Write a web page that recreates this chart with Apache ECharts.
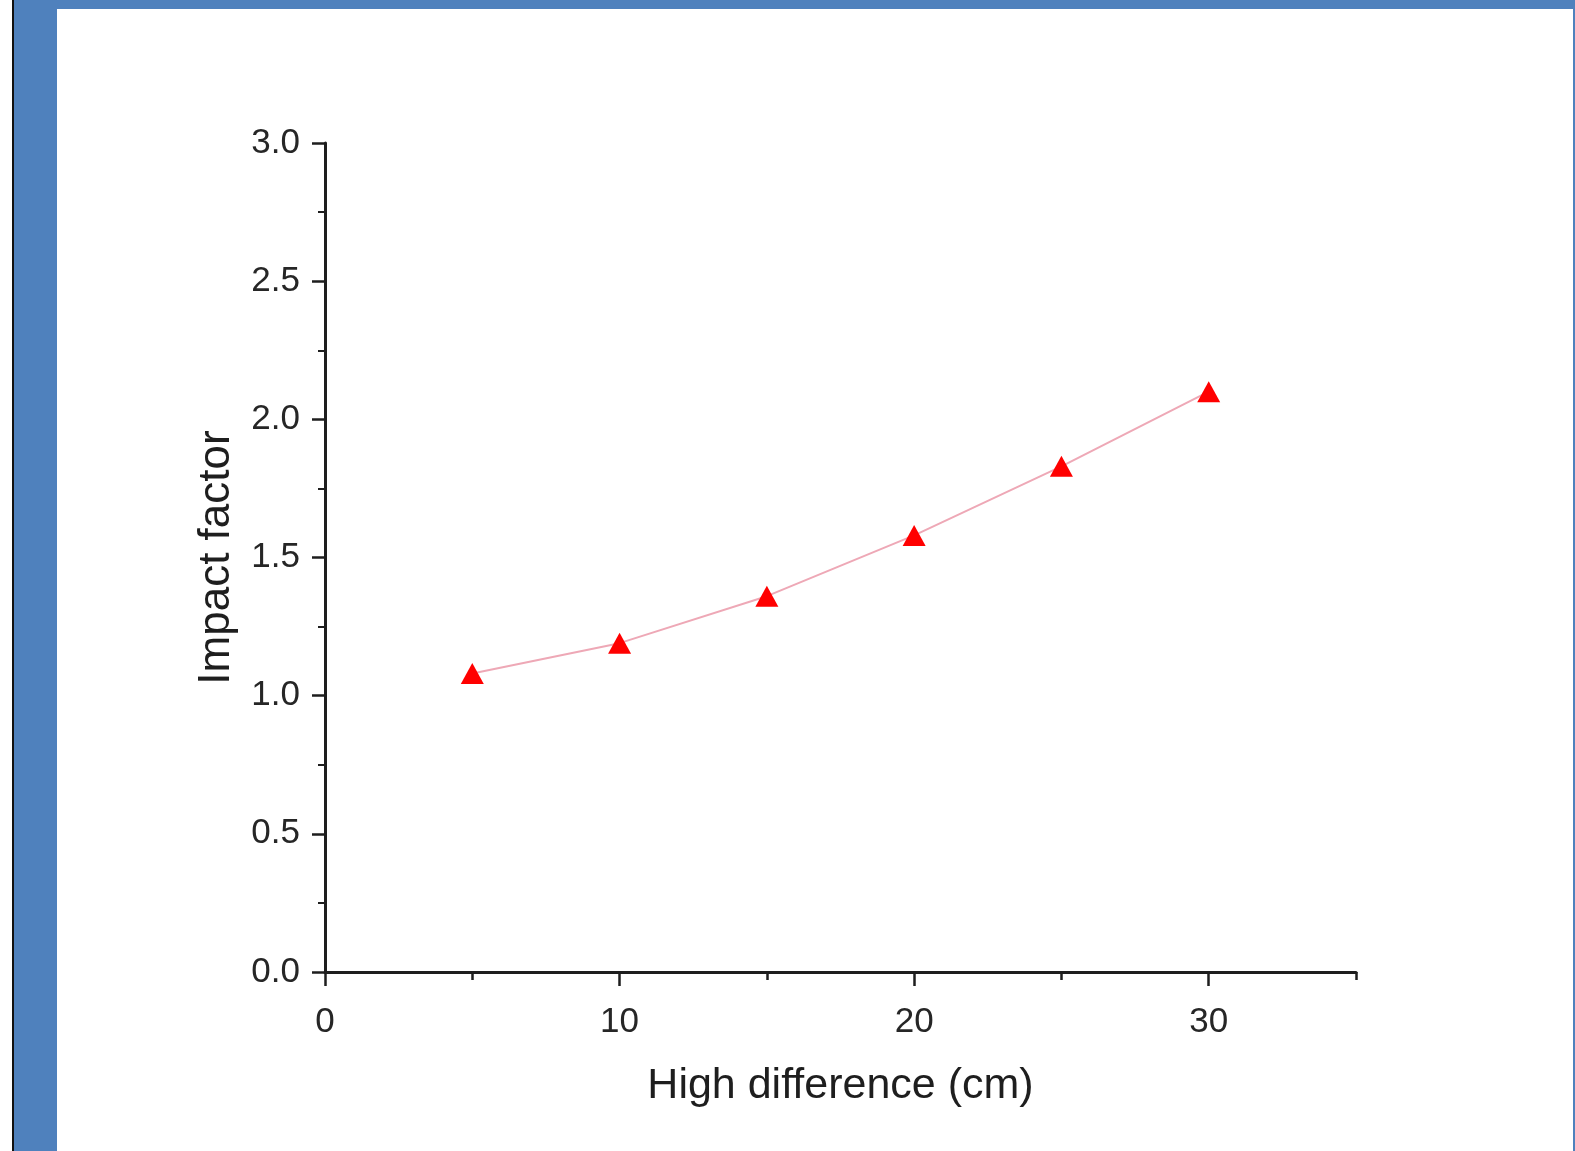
<!DOCTYPE html>
<html>
<head>
<meta charset="utf-8">
<title>Impact factor vs. high difference</title>
<script src="https://cdn.jsdelivr.net/npm/echarts@6/dist/echarts.min.js"></script>
<style>
  html, body { margin: 0; padding: 0; background: #ffffff; }
  #chart { width: 1575px; height: 1151px; }
</style>
</head>
<body>
<div id="chart"></div>
<script>
// Drop height (cm) and the measured impact factor at each height
const heights = [5, 10, 15, 20, 25, 30];
const impactFactor = [1.08, 1.19, 1.36, 1.58, 1.83, 2.10];
const xMajorTicks = [0, 10, 20, 30];

const axisColor = '#1e1e1e';
const labelColor = '#262626';
const fontFamily = '"Liberation Sans", Arial, Helvetica, sans-serif';

const points = heights.map((h, i) => [h, impactFactor[i]]);

const chart = echarts.init(document.getElementById('chart'), null, { renderer: 'canvas' });

chart.setOption({
  animation: false,
  backgroundColor: '#ffffff',
  graphic: [
    // slide frame: blue band on the left and top, thin strip on the right
    { type: 'rect', shape: { x: 12, y: 0, width: 2, height: 1151 }, style: { fill: '#111111' }, silent: true },
    { type: 'rect', shape: { x: 14, y: 0, width: 43, height: 1151 }, style: { fill: '#4f81bd' }, silent: true },
    { type: 'rect', shape: { x: 14, y: 0, width: 1561, height: 9 }, style: { fill: '#4f81bd' }, silent: true },
    { type: 'rect', shape: { x: 1573, y: 0, width: 2, height: 1151 }, style: { fill: '#4f81bd' }, silent: true }
  ],
  grid: {
    left: 325,
    top: 143,
    width: 1031,
    height: 829,
    containLabel: false,
    outerBoundsMode: 'none'
  },
  xAxis: [
    {
      type: 'value',
      min: 0,
      max: 35,
      interval: 5,
      name: 'High difference (cm)',
      nameLocation: 'middle',
      nameGap: 93,
      nameTextStyle: { fontSize: 43, color: '#1e1e1e', fontFamily: fontFamily },
      axisLine: { show: true, onZero: false, lineStyle: { color: axisColor, width: 3 } },
      axisTick: { show: true, inside: false, length: 8, lineStyle: { color: axisColor, width: 2.5 } },
      axisLabel: {
        margin: 33,
        fontSize: 35,
        color: labelColor,
        fontFamily: fontFamily,
        formatter: v => (xMajorTicks.indexOf(v) >= 0 ? String(v) : '')
      },
      splitLine: { show: false }
    },
    {
      // long ticks at the labelled positions
      type: 'value',
      gridIndex: 0,
      position: 'bottom',
      min: 0,
      max: 35,
      interval: 10,
      axisLine: { show: false },
      axisTick: { show: true, inside: false, length: 14, customValues: xMajorTicks, lineStyle: { color: axisColor, width: 2.5 } },
      axisLabel: { show: false },
      splitLine: { show: false }
    }
  ],
  yAxis: {
    type: 'value',
    min: 0,
    max: 3,
    interval: 0.5,
    name: 'Impact factor',
    nameLocation: 'middle',
    nameGap: 86,
    nameTextStyle: { fontSize: 44, color: '#1e1e1e', fontFamily: fontFamily },
    axisLine: { show: true, onZero: false, lineStyle: { color: axisColor, width: 3 } },
    axisTick: { show: true, inside: false, length: 13, lineStyle: { color: axisColor, width: 2.5 } },
    minorTick: { show: true, splitNumber: 2, length: 7, lineStyle: { color: axisColor, width: 2 } },
    axisLabel: {
      margin: 25,
      fontSize: 35,
      color: labelColor,
      fontFamily: fontFamily,
      formatter: v => v.toFixed(1)
    },
    splitLine: { show: false },
    minorSplitLine: { show: false }
  },
  series: [
    {
      type: 'line',
      xAxisIndex: 0,
      data: points,
      symbol: 'triangle',
      symbolSize: [23, 21],
      showSymbol: true,
      lineStyle: { color: '#eea8b6', width: 2 },
      itemStyle: { color: '#ff0000', borderWidth: 0 },
      z: 3
    }
  ]
});
</script>
</body>
</html>
